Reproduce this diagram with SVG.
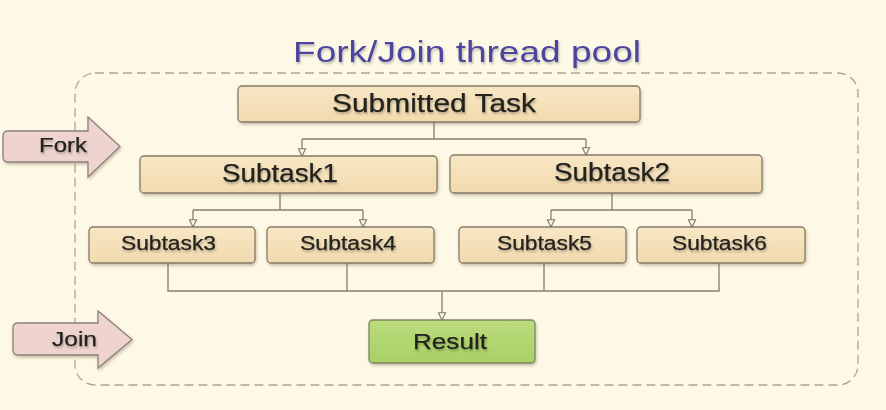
<svg xmlns="http://www.w3.org/2000/svg" width="886" height="410" viewBox="0 0 886 410">
<defs>
<filter id="sh" x="-10%" y="-20%" width="120%" height="150%">
<feDropShadow dx="1" dy="2" stdDeviation="1.5" flood-color="#6b5a3a" flood-opacity="0.35"/>
</filter>
<filter id="tsh" x="-10%" y="-30%" width="120%" height="160%">
<feDropShadow dx="1" dy="2" stdDeviation="1.2" flood-color="#000" flood-opacity="0.25"/>
</filter>
<marker id="ah" viewBox="0 0 10 10" refX="9" refY="5" markerWidth="9" markerHeight="9" markerUnits="userSpaceOnUse" orient="auto">
<path d="M1,1 L9,5 L1,9 Z" fill="#fbf7e3" stroke="#7d7868" stroke-width="1.2"/>
</marker>
<linearGradient id="tan" x1="0" y1="0" x2="0" y2="1">
<stop offset="0" stop-color="#f8e6c4"/>
<stop offset="1" stop-color="#f2daae"/>
</linearGradient>
<linearGradient id="grn" x1="0" y1="0" x2="0" y2="1">
<stop offset="0" stop-color="#bcdc7c"/>
<stop offset="1" stop-color="#a8d066"/>
</linearGradient>
</defs>
<style>
.box{fill:url(#tan);stroke:#857b68;stroke-width:1.3;filter:url(#sh)}
.res{fill:url(#grn);stroke:#7b8760;stroke-width:1.3;filter:url(#sh)}
.arr{fill:#eed3ce;stroke:#8d817d;stroke-width:1.3;filter:url(#sh)}
.t{font-family:"Liberation Sans",Arial,sans-serif;fill:#23221d;stroke:#23221d;stroke-width:0.25;text-anchor:middle;filter:url(#tsh)}
.big{font-size:25px}
.mid{font-size:20px}
.con{fill:none;stroke:#857f6e;stroke-width:1.3}
</style>
<rect width="886" height="410" fill="#fdf9e6"/>
<text x="467" y="62" textLength="348" lengthAdjust="spacingAndGlyphs" font-family="&quot;Liberation Sans&quot;,Arial,sans-serif" font-size="30" fill="#4b449e" text-anchor="middle" filter="url(#tsh)">Fork/Join thread pool</text>
<rect id="pool" x="75" y="73" width="783" height="312" rx="20" fill="none" stroke="#a9a59a" stroke-width="1.3" stroke-dasharray="9,5"/>
<g id="fork">
<path class="arr" d="M8,131 L88,131 L88,117 L120,146.5 L88,177 L88,162 L8,162 Q3,162 3,157 L3,136 Q3,131 8,131 Z"/>
<text class="t" x="63" y="152" font-size="21" textLength="48" lengthAdjust="spacingAndGlyphs">Fork</text>
</g>
<g id="join">
<path class="arr" d="M18,323 L98,323 L98,311 L132,339.5 L98,368 L98,355 L18,355 Q13,355 13,350 L13,328 Q13,323 18,323 Z"/>
<text class="t" x="74.5" y="346" font-size="21" textLength="45" lengthAdjust="spacingAndGlyphs">Join</text>
</g>
<g id="connectors">
<path class="con" d="M434,122 V139 M302,139 H586" />
<path class="con" d="M302,139 V156" marker-end="url(#ah)"/>
<path class="con" d="M586,139 V155" marker-end="url(#ah)"/>
<path class="con" d="M280,193 V210 M193,210 H363"/>
<path class="con" d="M193,210 V227" marker-end="url(#ah)"/>
<path class="con" d="M363,210 V227" marker-end="url(#ah)"/>
<path class="con" d="M612,193 V210 M551,210 H692"/>
<path class="con" d="M551,210 V227" marker-end="url(#ah)"/>
<path class="con" d="M692,210 V227" marker-end="url(#ah)"/>
<path class="con" d="M168,263 V291 H719 V263 M347,263 V291 M544,263 V291"/>
<path class="con" d="M442,291 V320" marker-end="url(#ah)"/>
</g>
<g id="submitted">
<rect class="box" x="238" y="86" width="402" height="36" rx="4"/>
<text class="t big" x="434" y="112" textLength="204" lengthAdjust="spacingAndGlyphs">Submitted Task</text>
</g>
<g id="subtask1">
<rect class="box" x="140" y="156" width="297" height="37" rx="4"/>
<text class="t big" x="280" y="182" textLength="116" lengthAdjust="spacingAndGlyphs">Subtask1</text>
</g>
<g id="subtask2">
<rect class="box" x="450" y="155" width="312" height="38" rx="4"/>
<text class="t big" x="612" y="181" textLength="116" lengthAdjust="spacingAndGlyphs">Subtask2</text>
</g>
<g id="subtask3">
<rect class="box" x="89" y="227" width="166" height="36" rx="4"/>
<text class="t mid" x="168.5" y="249.5" textLength="95" lengthAdjust="spacingAndGlyphs">Subtask3</text>
</g>
<g id="subtask4">
<rect class="box" x="267" y="227" width="167" height="36" rx="4"/>
<text class="t mid" x="348" y="249.5" textLength="96" lengthAdjust="spacingAndGlyphs">Subtask4</text>
</g>
<g id="subtask5">
<rect class="box" x="459" y="227" width="167" height="36" rx="4"/>
<text class="t mid" x="544.5" y="250" textLength="95" lengthAdjust="spacingAndGlyphs">Subtask5</text>
</g>
<g id="subtask6">
<rect class="box" x="637" y="227" width="168" height="36" rx="4"/>
<text class="t mid" x="719.5" y="250" textLength="95" lengthAdjust="spacingAndGlyphs">Subtask6</text>
</g>
<g id="result">
<rect class="res" x="369" y="320" width="166" height="43" rx="4"/>
<text class="t" x="450" y="349" font-size="22" textLength="74" lengthAdjust="spacingAndGlyphs">Result</text>
</g>
</svg>
